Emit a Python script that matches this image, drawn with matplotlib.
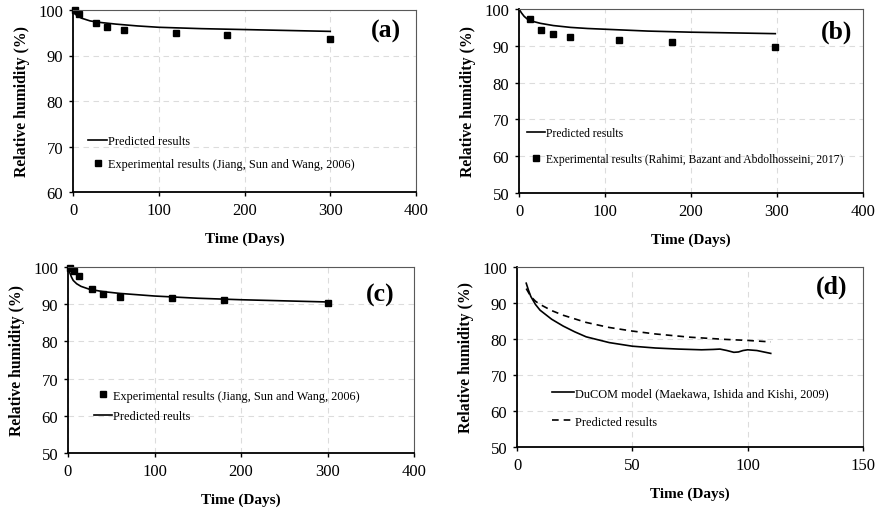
import matplotlib
matplotlib.use('Agg')
import matplotlib.pyplot as plt

plt.rcParams['font.family'] = ['Liberation Serif', 'DejaVu Serif']

# (a) Jiang, Sun and Wang 2006
a_pred_x = [0, 2, 5, 10, 20, 30, 50, 75, 100, 150, 200, 250, 300]
a_pred_y = [100, 99.2, 98.7, 98.2, 97.6, 97.3, 96.9, 96.5, 96.2, 95.9, 95.7, 95.5, 95.3]
a_exp_x = [2, 7, 27, 40, 60, 120, 180, 300]
a_exp_y = [100, 99.2, 97.2, 96.2, 95.5, 95.0, 94.5, 93.7]

# (b) Rahimi, Bazant and Abdolhosseini 2017
b_pred_x = [0, 3, 6, 10, 15, 25, 40, 60, 80, 100, 150, 200, 250, 298]
b_pred_y = [100, 98.9, 98.0, 97.2, 96.7, 96.1, 95.5, 95.0, 94.7, 94.5, 94.0, 93.7, 93.5, 93.3]
b_exp_x = [13, 26, 39, 59, 116, 178, 298]
b_exp_y = [97.3, 94.3, 93.2, 92.3, 91.5, 91.0, 89.7]

# (c) Jiang, Sun and Wang 2006
c_exp_x = [2, 7, 13, 28, 40, 60, 120, 180, 300]
c_exp_y = [99.8, 98.8, 97.5, 94.0, 92.8, 92.0, 91.7, 91.2, 90.2]
c_pred_x = [0, 2, 4, 6, 10, 15, 25, 40, 60, 100, 150, 200, 250, 300]
c_pred_y = [100, 98.5, 97.3, 96.4, 95.5, 94.8, 94.0, 93.4, 92.9, 92.2, 91.6, 91.2, 90.9, 90.6]

# (d) DuCOM model vs predicted
d_ducom_x = [4, 5, 6, 8, 10, 15, 20, 25, 30, 40, 50, 60, 70, 80, 85, 88, 91, 94, 96, 98, 100, 104, 107, 110]
d_ducom_y = [95.5, 93.5, 91.8, 89.6, 88.0, 85.5, 83.6, 82.0, 80.6, 79.0, 78.0, 77.5, 77.2, 77.0, 77.1, 77.2, 76.8, 76.3, 76.4, 76.8, 77.0, 76.8, 76.4, 76.0]
d_pred_x = [4, 6, 8, 10, 15, 20, 30, 40, 50, 60, 75, 90, 100, 110]
d_pred_y = [94.0, 91.8, 90.5, 89.6, 87.9, 86.6, 84.6, 83.2, 82.2, 81.4, 80.5, 79.9, 79.6, 79.2]

fig = plt.figure(figsize=(8.8, 5.1), dpi=100)
W, H = 880.0, 510.0


def make_ax(l, t, r, b):
    return fig.add_axes([l / W, 1 - b / H, (r - l) / W, (b - t) / H])


def style(ax, xmax, xstep, ymin, label, lx, ly):
    ax.set_xlim(0, xmax)
    ax.set_ylim(ymin, 100)
    ax.set_xticks(range(0, xmax + 1, xstep))
    ax.set_yticks(range(ymin, 101, 10))
    ax.grid(True, color='#dcdcdc', linestyle=(0, (5, 4)), linewidth=0.8)
    ax.set_axisbelow(True)
    for s in ['top', 'right']:
        ax.spines[s].set_color('#595959')
        ax.spines[s].set_linewidth(0.8)
    for s in ['left', 'bottom']:
        ax.spines[s].set_color('black')
        ax.spines[s].set_linewidth(1.3)
    ax.tick_params(direction='out', length=3, width=1, labelsize=12, pad=4)
    ax.set_xlabel('Time (Days)', fontsize=11, fontweight='bold', labelpad=10)
    ax.set_ylabel('Relative humidity (%)', fontsize=11.3, fontweight='bold', labelpad=6)
    ax.text(lx, ly, label, transform=ax.transAxes, ha='right', va='center',
            fontsize=18.5, fontweight='bold')


def add_legend(ax, x, y, spacing, size=8.8, hl=1.5):
    ax.legend(loc='lower left', bbox_to_anchor=(x, y), frameon=False, fontsize=size,
              handlelength=hl, handletextpad=0.1, labelspacing=spacing, borderaxespad=0.3)


# (a)
ax = make_ax(73, 11, 416, 193)
ax.plot(a_pred_x, a_pred_y, color='black', lw=1.2, label='Predicted results')
ax.plot(a_exp_x, a_exp_y, 's', color='black', ms=5, clip_on=False,
        label='Experimental results (Jiang, Sun and Wang, 2006)')
style(ax, 400, 100, 60, '(a)', 0.955, 0.885)
add_legend(ax, 0.02, 0.075, 0.9)

# (b)
ax = make_ax(519, 10, 863, 194)
ax.plot(b_pred_x, b_pred_y, color='black', lw=1.2, label='Predicted results')
ax.plot(b_exp_x, b_exp_y, 's', color='black', ms=5, clip_on=False,
        label='Experimental results (Rahimi, Bazant and Abdolhosseini, 2017)')
style(ax, 400, 100, 50, '(b)', 0.968, 0.88)
add_legend(ax, 0.0, 0.11, 1.15, size=8.4)

# (c)
ax = make_ax(68, 268, 414, 454)
ax.plot(c_exp_x, c_exp_y, 's', color='black', ms=5, clip_on=False,
        label='Experimental results (Jiang, Sun and Wang, 2006)')
ax.plot(c_pred_x, c_pred_y, color='black', lw=1.2, label='Predicted reults')
style(ax, 400, 100, 50, '(c)', 0.945, 0.855)
add_legend(ax, 0.05, 0.12, 0.7)

# (d)
ax = make_ax(517, 268, 863, 448)
ax.plot(d_ducom_x, d_ducom_y, color='black', lw=1.2, label='DuCOM model (Maekawa, Ishida and Kishi, 2009)')
ax.plot(d_pred_x, d_pred_y, color='black', lw=1.2, linestyle=(0, (4, 3)), label='Predicted results')
style(ax, 150, 50, 50, '(d)', 0.954, 0.894)
add_legend(ax, 0.075, 0.06, 1.35, hl=1.8)

fig.savefig('out.png', dpi=100)
